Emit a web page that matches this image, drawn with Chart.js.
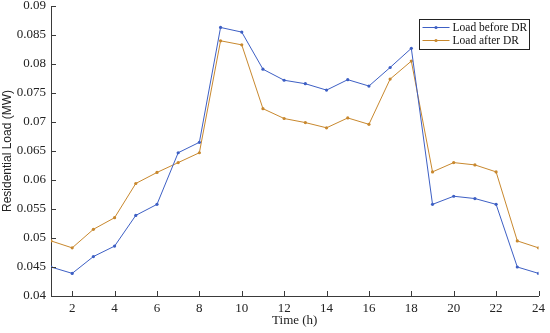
<!DOCTYPE html>
<html>
<head>
<meta charset="utf-8">
<script src="https://cdn.jsdelivr.net/npm/chart.js@4"></script>
<style>
  html, body { margin: 0; padding: 0; background: #fff; }
  #wrap { width: 550px; height: 333px; }
</style>
</head>
<body>
<div id="wrap"><canvas id="lineChart"></canvas></div>
<script>
const hours = [1, 2, 3, 4, 5, 6, 7, 8, 9, 10, 11, 12, 13, 14, 15, 16, 17, 18, 19, 20, 21, 22, 23, 24];
const loadBefore = [0.0450, 0.0439, 0.0468, 0.0486, 0.0539, 0.0558, 0.0647, 0.0665, 0.0863, 0.0855, 0.0791, 0.0772,
  0.0766, 0.0755, 0.0773, 0.0762, 0.0794, 0.0827, 0.0558, 0.0572, 0.0568, 0.0558, 0.0450, 0.0439];
const loadAfter = [0.0495, 0.0483, 0.0515, 0.0535, 0.0594, 0.0613, 0.0630, 0.0647, 0.0840, 0.0833, 0.0723, 0.0706,
  0.0699, 0.0690, 0.0707, 0.0696, 0.0774, 0.0805, 0.0614, 0.0630, 0.0626, 0.0614, 0.0495, 0.0483];
const xTicks = [2, 4, 6, 8, 10, 12, 14, 16, 18, 20, 22, 24];
const seriesNames = ['Load before DR', 'Load after DR'];

const blue = '#3d5fc4';
const orange = '#c8882e';
const axisColor = '#3a3a3a';
const font = { family: '"Liberation Serif", "Times New Roman", serif', size: 13 };
const sansFont = { family: '"Liberation Sans", Arial, sans-serif', size: 12 };

const toPoints = vals => vals.map((v, i) => ({ x: hours[i], y: v }));

// ticks pointing into the plot, plus a boxed legend
const extras = {
  id: 'extras',
  afterDraw(chart) {
    const c = chart.ctx;
    const a = chart.chartArea;
    const xs = chart.scales.x, ys = chart.scales.y;
    c.save();
    c.strokeStyle = axisColor;
    c.lineWidth = 1;
    c.beginPath();
    xs.ticks.forEach(t => {
      const px = Math.round(xs.getPixelForValue(t.value)) + 0.5;
      c.moveTo(px, a.bottom);
      c.lineTo(px, a.bottom - 5);
    });
    ys.ticks.forEach(t => {
      const py = Math.round(ys.getPixelForValue(t.value)) + 0.5;
      c.moveTo(a.left, py);
      c.lineTo(a.left + 5, py);
    });
    c.stroke();

    // legend
    const bx = 419.5, by = 19.5, bw = 110, bh = 30;
    c.fillStyle = '#fff';
    c.fillRect(bx, by, bw, bh);
    c.strokeStyle = '#222';
    c.strokeRect(bx, by, bw, bh);
    c.font = '11.5px ' + font.family;
    c.textBaseline = 'middle';
    [blue, orange].forEach((col, i) => {
      const yy = by + 8 + i * 13;
      c.strokeStyle = col;
      c.beginPath();
      c.moveTo(bx + 3, yy);
      c.lineTo(bx + 30, yy);
      c.stroke();
      c.fillStyle = col;
      c.beginPath();
      c.arc(bx + 16.5, yy, 1.6, 0, Math.PI * 2);
      c.fill();
      c.fillStyle = '#111';
      c.fillText(seriesNames[i], bx + 33, yy + 0.5);
    });
    c.restore();
  }
};

const ctx = document.getElementById('lineChart').getContext('2d');

new Chart(ctx, {
  type: 'line',
  data: {
    datasets: [{
      label: seriesNames[0],
      data: toPoints(loadBefore),
      borderColor: blue,
      backgroundColor: blue,
      borderWidth: 1,
      pointRadius: 1.6,
      pointBorderWidth: 0,
      tension: 0
    },
    {
      label: seriesNames[1],
      data: toPoints(loadAfter),
      borderColor: orange,
      backgroundColor: orange,
      borderWidth: 1,
      pointRadius: 1.6,
      pointBorderWidth: 0,
      tension: 0
    }]
  },
  options: {
    responsive: true,
    maintainAspectRatio: false,
    animation: false,
    layout: { padding: { top: 6, right: 7, left: 0, bottom: 0 } },
    plugins: {
      legend: { display: false },
      tooltip: { enabled: false }
    },
    scales: {
      x: {
        type: 'linear',
        min: 1,
        max: 24,
        afterBuildTicks: s => { s.ticks = xTicks.map(v => ({ value: v })); },
        afterFit: s => { s.height = 37; },
        grid: { display: false, drawTicks: false },
        border: { display: true, color: axisColor, width: 1 },
        ticks: { color: '#222', font: font, padding: 5, maxRotation: 0, autoSkip: false },
        title: { display: true, text: 'Time (h)', color: '#222', font: font, padding: { top: 1, bottom: 5 } }
      },
      y: {
        min: 0.04,
        max: 0.09,
        afterFit: s => { s.width = 51; s.paddingTop = 0; s.paddingBottom = 0; },
        grid: { display: false, drawTicks: false },
        border: { display: true, color: axisColor, width: 1 },
        ticks: {
          stepSize: 0.005,
          color: '#222',
          font: font,
          padding: 5,
          callback: v => String(+v.toFixed(3))
        },
        title: { display: true, text: 'Residential Load (MW)', color: '#222', font: sansFont, padding: { top: 0, bottom: 2 } }
      }
    }
  },
  plugins: [extras]
});
</script>
</body>
</html>
